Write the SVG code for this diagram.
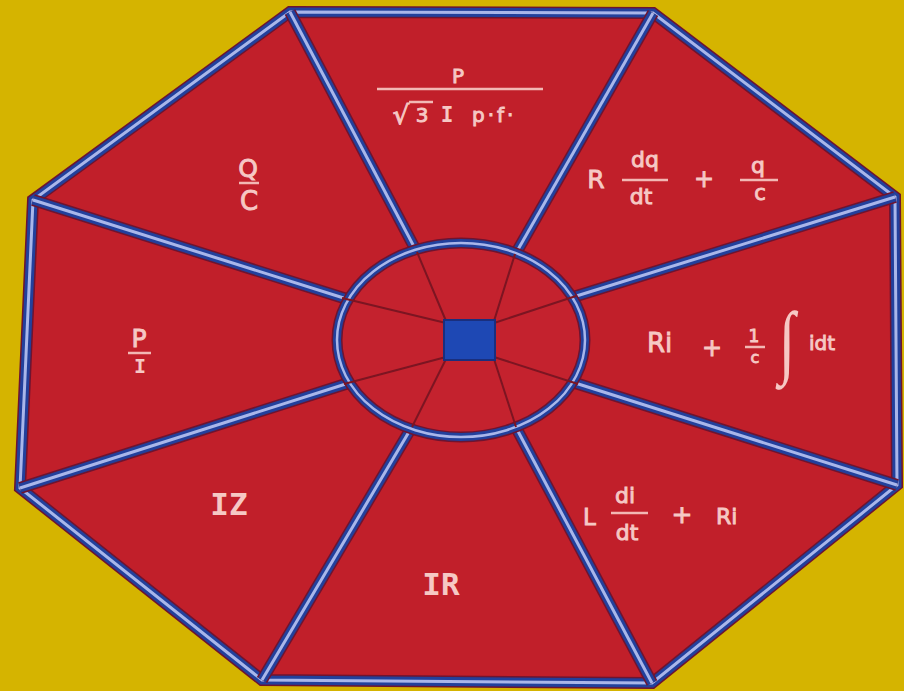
<svg xmlns="http://www.w3.org/2000/svg" width="904" height="691" viewBox="0 0 904 691">
<defs>
<style>
.sec{fill:#C11F2A;}
.t{fill:#F6C8C4;stroke:#F6C8C4;stroke-width:0.9;font-family:"DejaVu Sans",sans-serif;}
.m{fill:#F6C8C4;font-family:"DejaVu Sans Mono",monospace;font-weight:bold;}
.fl{stroke:#F2B8B4;stroke-width:2.5;}
.sp1{stroke:#6E1430;stroke-width:12;stroke-linecap:butt;}
.sp2{stroke:#22409C;stroke-width:9;}
.sp3{stroke:#A9B6EA;stroke-width:3;}
.inner{stroke:#7C1522;stroke-width:2;}
</style>
</defs>
<rect width="904" height="691" fill="#D5B400"/>
<polygon points="290,12 653,13 895,197 897,485 652,683 262,680 20,488 33,200" fill="#C11F2A"/>
<g id="sector-top"><polygon class="sec" points="298,20 648,20 517,250 415,248"/>
<text class="t" x="458" y="83" font-size="20" text-anchor="middle">P</text>
<line class="fl" x1="377" y1="89" x2="543" y2="89"/>
<text class="t" x="401" y="124" font-size="26" text-anchor="middle">√</text>
<line class="fl" x1="409" y1="102" x2="433" y2="102" stroke-width="2"/>
<text class="t" x="422" y="122" font-size="20" text-anchor="middle">3</text>
<text class="m" x="447" y="122" font-size="21" text-anchor="middle">I</text>
<text class="t" x="472" y="122" font-size="20" letter-spacing="3">p·f·</text>
</g>
<g id="sector-top-right"><polygon class="sec" points="653,20 888,200 580,295 517,250"/>
<text class="t" x="596" y="188" font-size="25" text-anchor="middle">R</text>
<text class="t" x="645" y="167" font-size="22" text-anchor="middle">dq</text>
<line class="fl" x1="622" y1="180" x2="668" y2="180"/>
<text class="t" x="641" y="204" font-size="22" text-anchor="middle">dt</text>
<text class="t" x="704" y="187" font-size="24" text-anchor="middle">+</text>
<text class="t" x="758" y="173" font-size="22" text-anchor="middle">q</text>
<line class="fl" x1="740" y1="180" x2="778" y2="180"/>
<text class="t" x="760" y="200" font-size="21" text-anchor="middle">c</text>
</g>
<g id="sector-right"><polygon class="sec" points="890,200 890,485 582,385 580,295"/>
<text class="t" x="647" y="352" font-size="26">Ri</text>
<text class="t" x="712" y="356" font-size="24" text-anchor="middle">+</text>
<text class="t" x="754" y="342" font-size="17" text-anchor="middle">1</text>
<line class="fl" x1="745" y1="347" x2="765" y2="347" stroke-width="2"/>
<text class="t" x="755" y="363" font-size="16" text-anchor="middle">c</text>
<text fill="#F6C8C4" font-family="Liberation Serif, serif" font-size="60" text-anchor="middle" transform="translate(787,368) scale(1,1.35)">∫</text>
<text class="t" x="809" y="350" font-size="20">idt</text>
</g>
<g id="sector-bottom-right"><polygon class="sec" points="890,488 650,676 518,430 582,385"/>
<text class="t" x="583" y="525" font-size="23">L</text>
<text class="t" x="625" y="503" font-size="22" text-anchor="middle">di</text>
<line class="fl" x1="611" y1="513" x2="648" y2="513"/>
<text class="t" x="627" y="540" font-size="22" text-anchor="middle">dt</text>
<text class="t" x="682" y="523" font-size="25" text-anchor="middle">+</text>
<text class="t" x="716" y="524" font-size="22">Ri</text>
</g>
<g id="sector-bottom"><polygon class="sec" points="648,676 266,674 410,430 518,430"/>
<text class="m" x="441" y="595" font-size="31" text-anchor="middle">IR</text>
</g>
<g id="sector-bottom-left"><polygon class="sec" points="262,672 28,488 342,385 410,430"/>
<text class="m" x="229" y="515" font-size="31" text-anchor="middle">IZ</text>
</g>
<g id="sector-left"><polygon class="sec" points="27,485 38,204 340,297 342,385"/>
<text class="t" x="139" y="347" font-size="25" text-anchor="middle">P</text>
<line class="fl" x1="128" y1="353" x2="151" y2="353"/>
<text class="m" x="140" y="373" font-size="20" text-anchor="middle">I</text>
</g>
<g id="sector-top-left"><polygon class="sec" points="40,200 292,20 415,248 340,297"/>
<text class="t" x="248" y="177" font-size="25" text-anchor="middle">Q</text>
<line class="fl" x1="239" y1="183" x2="259" y2="183"/>
<text class="t" x="249" y="210" font-size="26" text-anchor="middle">C</text>
</g>
<g id="connectors" fill="none">
<polygon class="sp1" points="290,12 653,13 895,197 897,485 652,683 262,680 20,488 33,200" stroke-linejoin="miter"/>
<polygon class="sp2" points="290,12 653,13 895,197 897,485 652,683 262,680 20,488 33,200" stroke-linejoin="miter"/>
<polygon class="sp3" points="290,12 653,13 895,197 897,485 652,683 262,680 20,488 33,200" stroke-linejoin="miter"/>
<g class="sp1"><line x1="290" y1="12" x2="420" y2="258"/><line x1="653" y1="13" x2="512" y2="260"/><line x1="895" y1="197" x2="570" y2="298"/><line x1="897" y1="485" x2="572" y2="382"/><line x1="652" y1="683" x2="512" y2="420"/><line x1="262" y1="680" x2="416" y2="420"/><line x1="20" y1="488" x2="352" y2="382"/><line x1="33" y1="200" x2="350" y2="300"/></g>
<g class="sp2"><line x1="290" y1="12" x2="420" y2="258"/><line x1="653" y1="13" x2="512" y2="260"/><line x1="895" y1="197" x2="570" y2="298"/><line x1="897" y1="485" x2="572" y2="382"/><line x1="652" y1="683" x2="512" y2="420"/><line x1="262" y1="680" x2="416" y2="420"/><line x1="20" y1="488" x2="352" y2="382"/><line x1="33" y1="200" x2="350" y2="300"/></g>
<g class="sp3"><line x1="290" y1="12" x2="420" y2="258"/><line x1="653" y1="13" x2="512" y2="260"/><line x1="895" y1="197" x2="570" y2="298"/><line x1="897" y1="485" x2="572" y2="382"/><line x1="652" y1="683" x2="512" y2="420"/><line x1="262" y1="680" x2="416" y2="420"/><line x1="20" y1="488" x2="352" y2="382"/><line x1="33" y1="200" x2="350" y2="300"/></g>
</g>
<g id="hub">
<ellipse cx="461" cy="340" rx="124" ry="97" fill="#C4222E" stroke="#6E1430" stroke-width="11"/>
<ellipse cx="461" cy="340" rx="124" ry="97" fill="none" stroke="#22409C" stroke-width="8"/>
<ellipse cx="461" cy="340" rx="124" ry="97" fill="none" stroke="#A9B6EA" stroke-width="2.5"/>
<g class="inner"><line x1="417" y1="252" x2="446" y2="321"/><line x1="515" y1="254" x2="494" y2="321"/><line x1="576" y1="296" x2="494" y2="323"/><line x1="578" y1="384" x2="494" y2="357"/><line x1="516" y1="427" x2="494" y2="359"/><line x1="412" y1="427" x2="446" y2="359"/><line x1="344" y1="384" x2="446" y2="357"/><line x1="342" y1="298" x2="446" y2="323"/></g>
<rect x="444" y="320" width="51" height="40" fill="#1E48B4" stroke="#1A2F7E" stroke-width="2"/>
</g>
</svg>
